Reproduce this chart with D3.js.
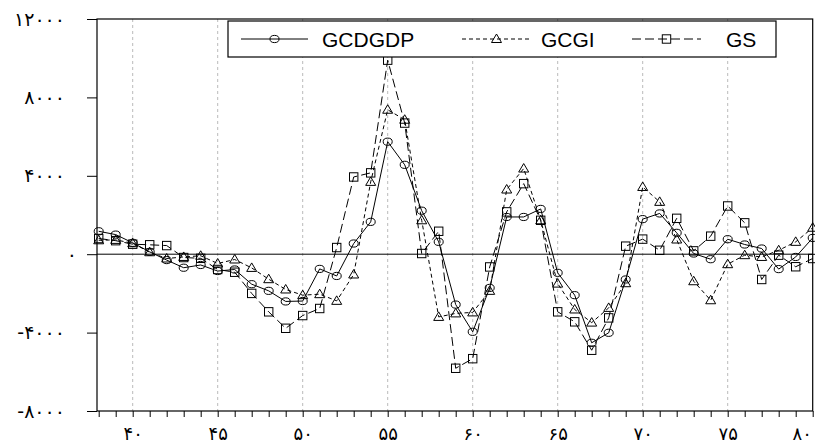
<!DOCTYPE html>
<html><head><meta charset="utf-8">
<script src="https://cdn.jsdelivr.net/npm/d3@7"></script>
<style>
html,body{margin:0;padding:0;background:#fff;}
svg{display:block;}
</style></head>
<body>
<svg id="chart" width="815" height="445"></svg>
<script>
const years = d3.range(38, 81);
const GCDGDP = [1170,1000,580,120,-300,-690,-550,-860,-780,-1530,-1870,-2410,-2390,-750,-1110,545,1650,5740,4560,2220,630,-2570,-3960,-1720,1900,1900,2310,-950,-2090,-4520,-4010,-1290,1790,2080,1090,35,-255,765,495,290,-760,-140,830];
const GCGI = [710,730,560,100,-220,-140,-80,-475,-270,-700,-1275,-1800,-2090,-2040,-2380,-1035,3690,7370,6860,1730,-3200,-3020,-2970,-1870,3300,4370,1730,-1500,-2820,-3490,-2740,-1480,3430,2670,750,-1380,-2350,-510,-50,-140,200,630,1350];
const GS = [800,690,510,480,440,-170,-210,-780,-920,-2000,-2940,-3780,-3130,-2770,340,3940,4150,9900,6690,35,1170,-5820,-5330,-650,2160,3600,1730,-2940,-3450,-4900,-3250,410,770,200,1830,170,920,2460,1600,-1290,-50,-640,-220];
const yTicks = [-8000,-4000,0,4000,8000,12000];
const xTicksMajor = [40,45,50,55,60,65,70,75,80];
const seriesNames = ["GCDGDP","GCGI","GS"];

const fa = n => { const s = String(Math.abs(n)).replace(/[0-9]/g, d => "۰۱۲۳۴۵۶۷۸۹"[+d]); return (n<0?"-":"") + s; };

const svg = d3.select("#chart");
const L = 97, R = 812.7, T = 19, B = 411;
const x = d3.scaleLinear().domain([37.9, 80]).range([L, R]);
const y = d3.scaleLinear().domain([-8000, 12000]).range([B, T]);

// gridlines
svg.append("g").selectAll("line").data(xTicksMajor.filter(v => v < 80)).join("line")
  .attr("x1", d => x(d)).attr("x2", d => x(d)).attr("y1", T).attr("y2", B)
  .attr("stroke", "#bbb").attr("stroke-width", 1).attr("stroke-dasharray", "3,3");

// zero line
svg.append("line").attr("x1", L).attr("x2", R).attr("y1", y(0)).attr("y2", y(0))
  .attr("stroke", "#000").attr("stroke-width", 1);

// frame
svg.append("rect").attr("x", L).attr("y", T).attr("width", R - L).attr("height", B - T)
  .attr("fill", "none").attr("stroke", "#000").attr("stroke-width", 1.2);

// y axis
const yAxis = svg.append("g").attr("transform", `translate(${L},0)`)
  .call(d3.axisLeft(y).tickValues(yTicks).tickSize(10).tickPadding(22).tickFormat(fa));
yAxis.select(".domain").remove();
yAxis.selectAll("text").attr("font-family", "DejaVu Sans").attr("font-size", 19).attr("fill", "#000")
  .attr("dx", d => d === 0 ? 12 : 0);

// x axis
const xAxis = svg.append("g").attr("transform", `translate(0,${B})`)
  .call(d3.axisBottom(x).tickValues(years).tickSize(6).tickFormat(""));
xAxis.select(".domain").remove();
const xLab = svg.append("g").attr("transform", `translate(0,${B})`)
  .call(d3.axisBottom(x).tickValues(xTicksMajor).tickSize(0).tickPadding(16).tickFormat(fa));
xLab.select(".domain").remove();
xLab.selectAll("text").attr("font-family", "DejaVu Sans").attr("font-size", 18).attr("fill", "#000")
  .attr("dx", d => d === 80 ? -11 : 0);

const data = [GCDGDP, GCGI, GS];
const dashes = [null, "4,3", "9,4"];
const line = d3.line().x((d, i) => x(years[i])).y(d => y(d));

function marker(g, kind, cx, cy) {
  if (kind === 0) {
    g.append("ellipse").attr("cx", cx).attr("cy", cy).attr("rx", 4.5).attr("ry", 3.6)
      .attr("fill", "none").attr("stroke", "#000");
  } else if (kind === 1) {
    g.append("path").attr("d", `M${cx},${cy-5}L${cx+5},${cy+3.5}L${cx-5},${cy+3.5}Z`)
      .attr("fill", "none").attr("stroke", "#000");
  } else {
    g.append("rect").attr("x", cx - 4.2).attr("y", cy - 4.2).attr("width", 8.4).attr("height", 8.4)
      .attr("fill", "none").attr("stroke", "#000");
  }
}

data.forEach((vals, k) => {
  svg.append("path").datum(vals).attr("d", line).attr("fill", "none")
    .attr("stroke", "#000").attr("stroke-width", 1)
    .attr("stroke-dasharray", dashes[k]);
  const g = svg.append("g");
  vals.forEach((v, i) => marker(g, k, x(years[i]), y(v)));
});

// legend
const lg = svg.append("g");
lg.append("rect").attr("x", 228).attr("y", 21).attr("width", 548).attr("height", 36)
  .attr("fill", "#fff").attr("stroke", "#000").attr("stroke-width", 1.2);
const items = [
  {x1: 241, x2: 308, tx: 322},
  {x1: 462, x2: 531, tx: 541},
  {x1: 632, x2: 701, tx: 726}
];
items.forEach((it, k) => {
  const cy = 39;
  lg.append("line").attr("x1", it.x1).attr("x2", it.x2).attr("y1", cy).attr("y2", cy)
    .attr("stroke", "#000").attr("stroke-dasharray", dashes[k]);
  marker(lg, k, (it.x1 + it.x2) / 2, cy);
  lg.append("text").attr("x", it.tx).attr("y", cy + 7.5).text(seriesNames[k])
    .attr("font-family", "Liberation Sans, Arial, sans-serif").attr("font-size", 21).attr("fill", "#000");
});
</script>
</body></html>
